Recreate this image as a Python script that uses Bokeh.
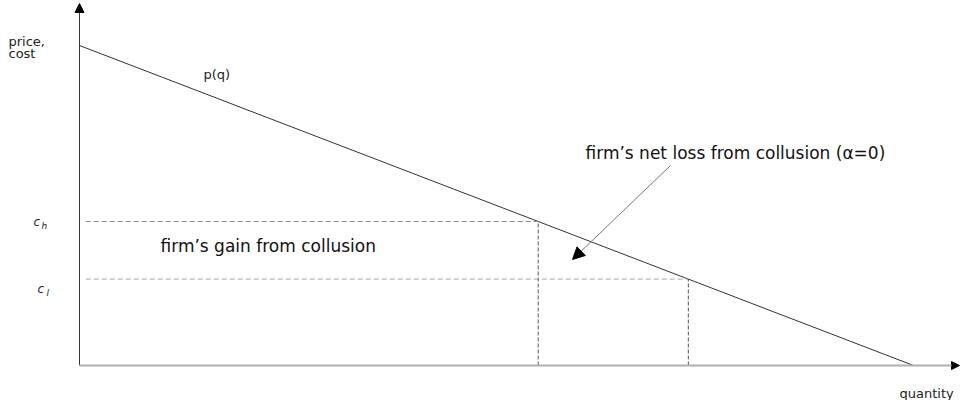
from bokeh.plotting import figure
from bokeh.models import Arrow, NormalHead, Label, Range1d
from bokeh.embed import file_html
from bokeh.resources import INLINE

# ---- data (economic units) ----
p_max = 1.0          # demand intercept p(0)
q_max = 1.0          # choke quantity where p(q)=0
c_h = 0.45           # high cost
c_l = 0.27           # low cost
demand_q = [0.0, q_max]
demand_p = [p_max, 0.0]
cost_labels = ["c", "c"]
cost_subs = ["h", "l"]

def qty_at(price):
    return q_max * (1 - price / p_max)

q_h = qty_at(c_h)
q_l = qty_at(c_l)

W, H = 960, 400
# picture px -> data conversion
X0, XS = 79, 834.0
Y0, YS = 365, 320.0
def dx(sx):
    return (sx - X0) / XS
def dy(sy):
    return (Y0 - sy) / YS

p = figure(width=W, height=H, output_backend="svg", toolbar_location=None,
           x_range=Range1d(-X0 / XS, (W - X0) / XS),
           y_range=Range1d((Y0 - H) / YS, Y0 / YS),
           min_border=0)
p.axis.visible = False
p.grid.visible = False
p.outline_line_color = None
p.background_fill_color = "white"

# axes with arrows
p.add_layout(Arrow(end=NormalHead(size=9, fill_color="black", line_color="black"),
                   x_start=0, y_start=0, x_end=0, y_end=dy(3),
                   line_color="#333333", line_width=1))
p.add_layout(Arrow(end=NormalHead(size=8, fill_color="black", line_color="black"),
                   x_start=0, y_start=0, x_end=dx(959), y_end=0,
                   line_color="#b0b0b0", line_width=2))

# demand curve
p.line(demand_q, demand_p, line_color="#333333", line_width=1)

# cost lines
x_start = 0.0075
p.line([x_start, q_h], [c_h, c_h], line_color="#888888", line_dash="5 3", line_width=1)
p.line([x_start, q_l], [c_l, c_l], line_color="#aaaaaa", line_dash="5 3", line_width=1)
p.line([q_h, q_h], [0, c_h], line_color="#555555", line_dash="4 2", line_width=1)
p.line([q_l, q_l], [0, c_l], line_color="#555555", line_dash="4 2", line_width=1)

# annotation arrow
p.add_layout(Arrow(end=NormalHead(size=12, fill_color="black", line_color="black"),
                   x_start=dx(670), y_start=dy(165), x_end=dx(572), y_end=dy(259),
                   line_color="#777777", line_width=1))

def lab(text, sx, sy, size, font="DejaVu Sans", style="normal", color="#222222"):
    p.add_layout(Label(x=dx(sx), y=dy(sy), text=text, text_font=font,
                       text_font_size=f"{size}px", text_font_style=style,
                       text_color=color, text_align="left", text_baseline="middle"))

lab("price,", 8, 41, 13)
lab("cost", 8, 53, 13)
lab("p(q)", 203, 74, 13)
lab("quantity", 899, 393, 13)
lab(cost_labels[0], 33, 221, 12, style="italic")
lab(cost_subs[0], 41, 225, 9, style="italic")
lab(cost_labels[1], 37, 288, 12, style="italic")
lab(cost_subs[1], 46, 292, 9, style="italic")
lab("firm\u2019s gain from collusion", 160, 245, 17, color="#111111")
lab("firm\u2019s net loss from collusion (\u03b1=0)", 585, 152, 17, color="#111111")

open("out.html", "w").write(file_html(p, INLINE))
